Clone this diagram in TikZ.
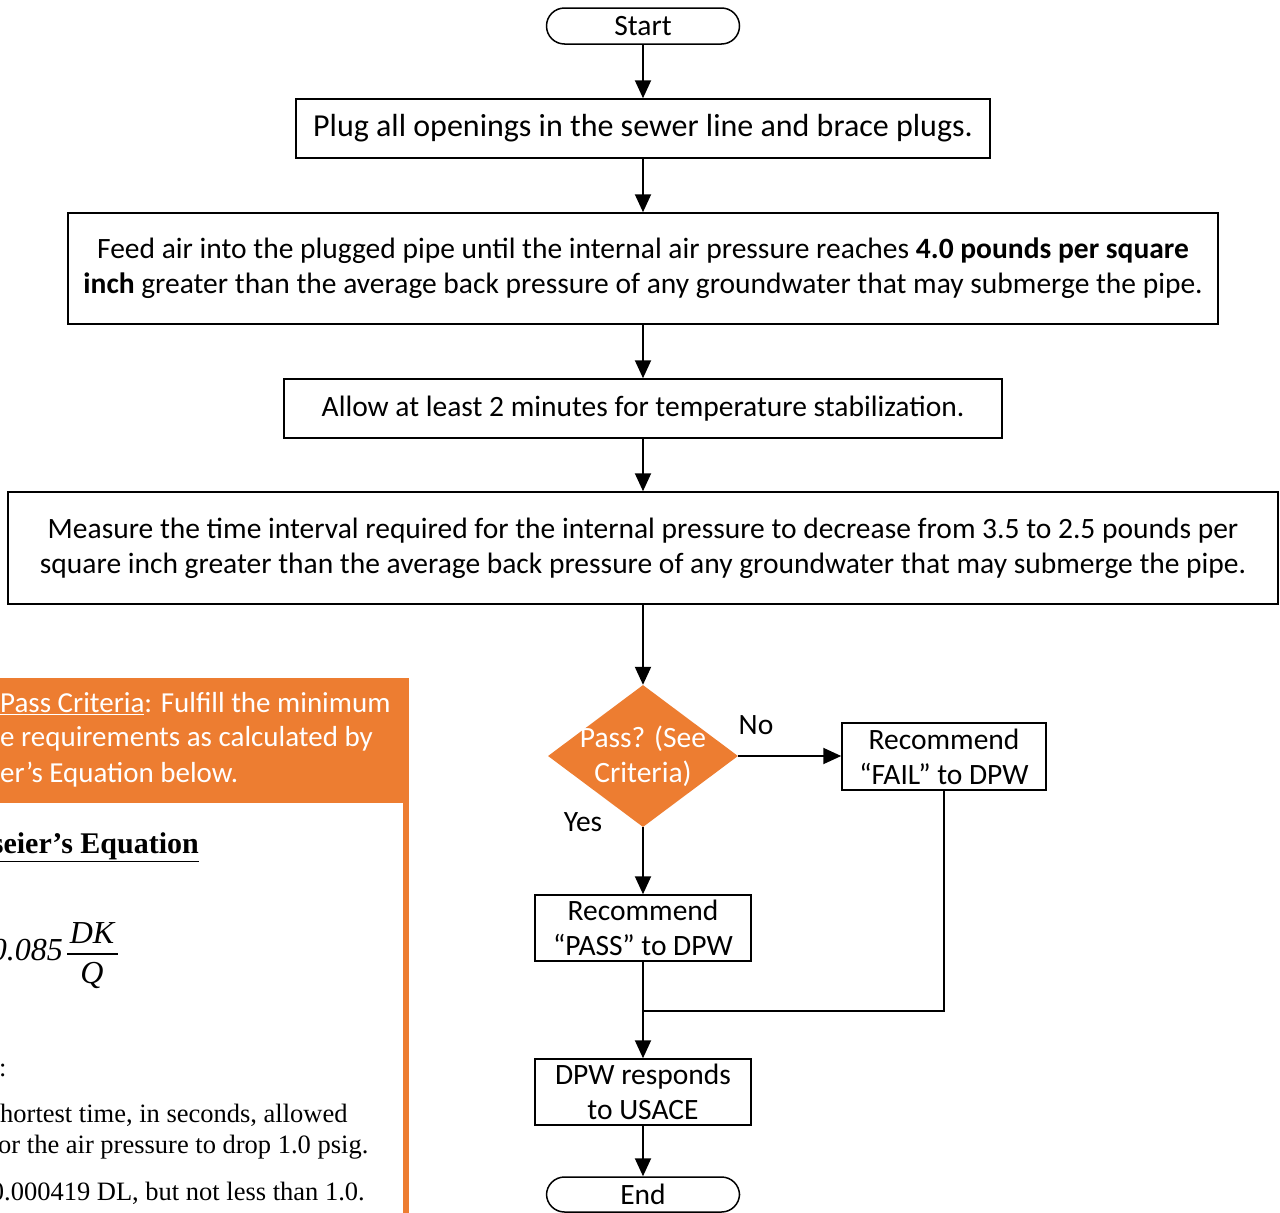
\documentclass[tikz,border=0pt]{standalone}
\usepackage{fontspec}
\setmainfont{Carlito}
\newfontfamily\seriffont{Liberation Serif}
\usetikzlibrary{arrows.meta,shapes.geometric}
\definecolor{orng}{HTML}{ED7D31}
\begin{document}
\begin{tikzpicture}[x=1pt,y=-1pt,
  txt/.style={font=\fontsize{29.5}{35}\selectfont},
  box/.style={draw,line width=1.5pt,inner sep=0pt,align=center,txt},
  term/.style={draw,line width=1.5pt,rounded corners=18pt,inner sep=0pt,txt},
  arr/.style={line width=2pt,-{Triangle[length=18pt,width=16pt]}},
  ln/.style={line width=2pt},
  serif/.style={font=\seriffont\fontsize{26.5}{32}\selectfont,inner sep=0pt},
  eqf/.style={font=\seriffont\itshape\fontsize{32}{36}\selectfont,inner sep=0pt},
  hdr/.style={font=\fontsize{29}{35}\selectfont,text=white,inner sep=0pt}]
\useasboundingbox (0,0) rectangle (1280,1213);
\clip (0,0) rectangle (1280,1213);
\fill[white] (0,0) rectangle (1280,1213);

% flow nodes
\node[term,minimum width=193pt,minimum height=36pt] (start) at (643,26) {Start};
\node[box,minimum width=694pt,minimum height=59pt,font=\fontsize{32}{38}\selectfont] (b1) at (643,128.5) {Plug all openings in the sewer line and brace plugs.};
\node[box,minimum width=1150pt,minimum height=111pt] (b2) at (643,268.5) {Feed air into the plugged pipe until the internal air pressure reaches \textbf{4.0 pounds per square}\\\textbf{inch} greater than the average back pressure of any groundwater that may submerge the pipe.};
\node[box,minimum width=718pt,minimum height=59pt] (b3) at (643,408.5) {Allow at least 2 minutes for temperature stabilization.};
\node[box,minimum width=1270pt,minimum height=112pt] (b4) at (643,548) {Measure the time interval required for the internal pressure to decrease from 3.5 to 2.5 pounds per\\square inch greater than the average back pressure of any groundwater that may submerge the pipe.};
\node[diamond,fill=orng,inner sep=0pt,minimum width=190pt,minimum height=142pt] (dia) at (643,756) {};
\node[txt,text=white,align=center,inner sep=0pt] (diat) at (643,756) {Pass? (See\\Criteria)};
\node[box,minimum width=204pt,minimum height=67pt] (fail) at (944,756.5) {Recommend\\“FAIL” to DPW};
\node[box,minimum width=216pt,minimum height=66pt] (pass) at (643,928) {Recommend\\“PASS” to DPW};
\node[box,minimum width=216pt,minimum height=66pt] (dpw) at (643,1092) {DPW responds\\to USACE};
\node[term,minimum width=193pt,minimum height=35pt] (end) at (643,1194.5) {End};
\node[txt,inner sep=0pt] (no) at (756,725) {No};
\node[txt,inner sep=0pt] (yes) at (583,822) {Yes};
\coordinate (join) at (643,1011);

% connectors
\draw[arr] (start) -- (b1);
\draw[arr] (b1) -- (b2);
\draw[arr] (b2) -- (b3);
\draw[arr] (b3) -- (b4);
\draw[arr] (b4) -- (dia.north);
\draw[arr] (dia.east) -- (dia.east -| fail.west);
\draw[arr] (dia.south) -- (pass.north);
\draw[arr] (pass.south) -- (dpw.north);
\draw[ln] (fail.south) |- (join);
\draw[arr] (dpw) -- (end);

% left criteria panel
\fill[orng] (-5,678) rectangle (409,803);
\draw[orng,line width=6pt] (406,800) -- (406,1220);
\node[hdr,anchor=west] (h1) at (0,704) {\underline{Pass Criteria}: Fulfill the minimum};
\node[hdr,anchor=west] (h2) at (0,739) {e requirements as calculated by};
\node[hdr,anchor=west] (h3) at (0,775) {er’s Equation below.};
\node[serif,anchor=east,font=\seriffont\bfseries\fontsize{30}{32}\selectfont] (eqt) at (199,847) {\underline{seier’s Equation}};
\node[eqf,anchor=east] (c0) at (63,950) {0.085};
\node[eqf] (num) at (92,933) {DK};
\node[eqf] (den) at (92,975) {Q};
\draw[line width=1.2pt] (67,954) -- (118,954);
\node[serif,anchor=west] (colon) at (-1,1070) {:};
\node[serif,anchor=west] (l1) at (0,1115) {hortest time, in seconds, allowed};
\node[serif,anchor=west] (l2) at (-2,1147) {or the air pressure to drop 1.0 psig.};
\node[serif,anchor=east] (l3) at (365,1193) {0.000419 DL, but not less than 1.0.};
\end{tikzpicture}
\end{document}
